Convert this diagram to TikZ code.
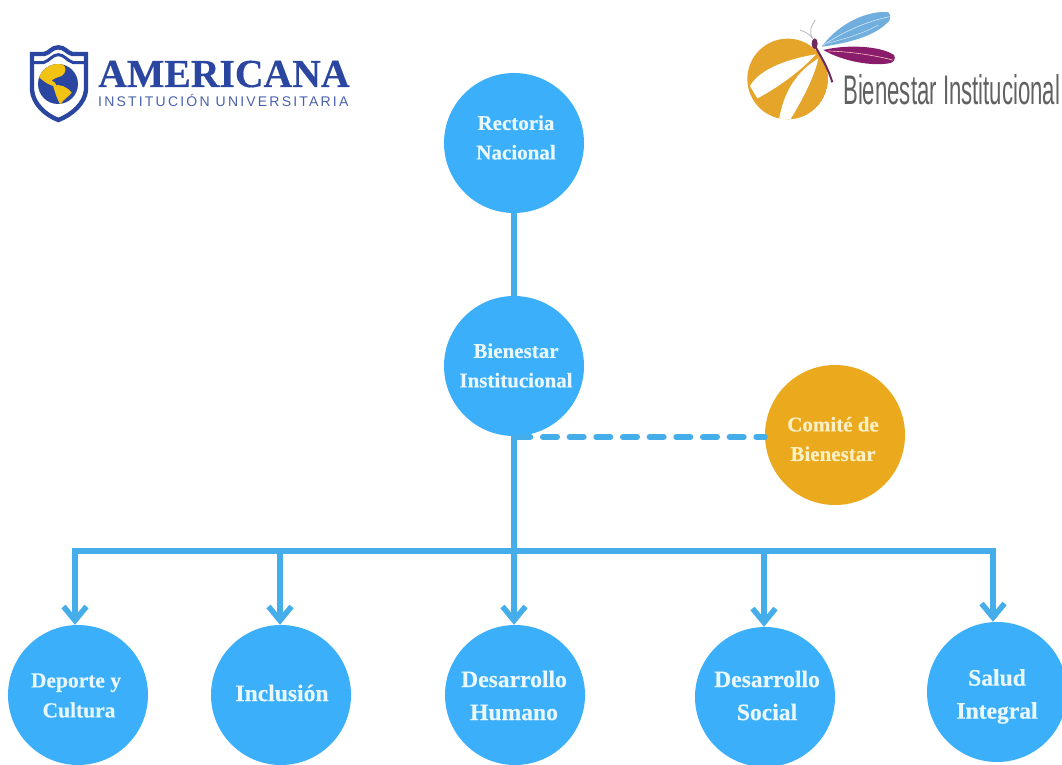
\documentclass[tikz,border=0pt]{standalone}
\usepackage{fontspec}
\usepackage{graphicx}
\usetikzlibrary{arrows.meta}
\setmainfont[BoldFeatures={FakeBold=0.35}]{Liberation Serif}
\newfontfamily\instfont[LetterSpace=15.7]{Liberation Sans}
\newfontfamily\bienfont{Liberation Sans}
\definecolor{skyc}{HTML}{3BAFF9}
\definecolor{linec}{HTML}{45AEEA}
\definecolor{goldc}{HTML}{EBA91E}
\definecolor{labelc}{HTML}{E9F8FF}
\definecolor{labelg}{HTML}{FBF0C4}
\definecolor{navyc}{HTML}{2A46A0}
\definecolor{globey}{HTML}{F2C313}
\definecolor{wingb}{HTML}{6FAEDD}
\definecolor{wingp}{HTML}{8A1C6C}
\definecolor{bodyc}{HTML}{6E2A5E}
\definecolor{logog}{HTML}{E5A42A}
\tikzset{
  disc/.style={circle,minimum size=140pt,inner sep=0pt,fill=skyc},
  golddisc/.style={disc,fill=goldc},
  lab/.style={text=labelc,align=center,inner sep=0pt,font=\bfseries\fontsize{21}{29.5}\selectfont},
  labbig/.style={lab,font=\bfseries\fontsize{23.6}{33}\selectfont},
  conn/.style={draw=linec,line width=5.5pt},
  arrowconn/.style={conn,-{Straight Barb[length=14pt,width=23pt,line width=5.5pt]},shorten >=0pt,
    preaction={draw=linec,line width=5.5pt,-,shorten >=6pt}},
  dashconn/.style={draw=linec,line width=6pt,line cap=round,dash pattern=on 14pt off 12.67pt,dash phase=-2.3pt},
}
\begin{document}
\begin{tikzpicture}[x=1pt,y=-1pt]
\useasboundingbox (0,0) rectangle (1062,765);
\fill[white] (0,0) rectangle (1062,765);

% nodes
\node[disc] (rect) at (514,143) {};
\node[disc] (bien) at (514,366) {};
\node[golddisc] (com) at (835,435) {};
\node[disc] (dep) at (78,695) {};
\node[disc] (inc) at (281,695) {};
\node[disc] (hum) at (515,695) {};
\node[disc] (soc) at (765,697) {};
\node[disc] (sal) at (997,692) {};

\node[lab] (lrect) at (516,137.5) {Rectoria\\Nacional};
\node[lab] (lbien) at (516,365.5) {Bienestar\\Institucional};
\node[lab,text=labelg] (lcom) at (833,439) {Comité de\\Bienestar};
\node[lab,font=\bfseries\fontsize{21.5}{30}\selectfont] (ldep) at (76,695.5) {Deporte y\\\hspace*{6pt}Cultura};
\node[labbig] (linc) at (282,693) {Inclusión};
\node[labbig] (lhum) at (514,695.5) {Desarrollo\\Humano};
\node[labbig] (lsoc) at (767,695.5) {Desarrollo\\Social};
\node[labbig] (lsal) at (997,696.5) {Salud\\Integral};

% connectors
\coordinate (jdash) at (514,437);
\coordinate (jbus) at (514,551);
\draw[conn] (rect.south) -- (bien.north);
\draw[dashconn] (jdash) -- (com.west |- jdash);
\draw[conn] (bien.south) -- (jbus);
\draw[arrowconn] (jbus) -| ([xshift=-3pt]dep.north);
\draw[arrowconn] (jbus) -| ([xshift=-1pt]inc.north);
\draw[arrowconn] (jbus) -- (jbus |- hum.north);
\draw[arrowconn] (jbus) -| ([xshift=-1pt]soc.north);
\draw[arrowconn] (jbus) -| ([xshift=-4pt]sal.north);

% Americana logo
\begin{scope}[shift={(25,40)},scale=1/3]
  \draw[navyc,line width=4.4pt,fill=white,line join=miter]
    (21,42) -- (58,42) .. controls (75,38) and (80,22) .. (100,22)
    .. controls (120,22) and (125,38) .. (142,42) -- (183,42) -- (183,150)
    .. controls (180,190) and (140,225) .. (100,240)
    .. controls (60,225) and (24,190) .. (21,150) -- cycle;
  \draw[navyc,line width=3pt]
    (22,68) -- (55,68) .. controls (75,62) and (82,44) .. (100,44)
    .. controls (118,44) and (125,62) .. (145,68) -- (182,68);
  \fill[navyc] (99,132) circle (60);
  \begin{scope}
    \clip (99,132) circle (60);
    \fill[globey] (38,108) -- (50,80) -- (90,65) -- (112,72)
      .. controls (126,82) and (124,98) .. (110,108)
      .. controls (96,112) and (86,116) .. (80,122)
      .. controls (90,126) and (96,134) .. (92,139)
      .. controls (76,138) and (60,128) .. (38,108) -- cycle;
    \fill[globey] (84,137) .. controls (105,130) and (128,142) .. (140,158)
      .. controls (130,172) and (116,176) .. (106,194)
      .. controls (96,178) and (90,155) .. (84,137) -- cycle;
  \end{scope}
\end{scope}
\node[anchor=base west,inner sep=0pt,text=navyc,font=\bfseries\fontsize{39.7}{40}\selectfont] (amer) at (98,87) {AMERICANA};
\node[anchor=base west,inner sep=0pt,text=navyc!85,font=\instfont\fontsize{14}{15}\selectfont] (inst) at (98,107) {INSTITUCIÓN UNIVERSITARIA};

% Bienestar Institucional logo
\begin{scope}[shift={(740,5)},scale=1/3]
  \draw[black!25,line width=0.9pt] (218,100) .. controls (205,85) and (195,80) .. (180,75);
  \draw[black!25,line width=0.9pt] (218,100) .. controls (205,80) and (215,60) .. (226,45);
  \begin{scope}
    \clip (143,222) circle (121);
    \fill[logog] (143,222) circle (121);
    \fill[white] (228,148) .. controls (150,160) and (60,190) .. (30,243)
      -- (52,280) .. controls (110,250) and (180,200) .. (228,148) -- cycle;
    \fill[white] (235,160) .. controls (170,200) and (130,260) .. (116,350)
      -- (150,345) .. controls (190,280) and (225,210) .. (235,160) -- cycle;
    \fill[white] (215,100) -- (300,100) -- (300,250) -- (279,235) -- (236,130) -- cycle;
  \end{scope}
  \fill[wingb] (245,125) .. controls (300,50) and (390,15) .. (445,22)
    .. controls (455,30) and (452,48) .. (440,55)
    .. controls (400,95) and (320,115) .. (245,125) -- cycle;
  \draw[white!70!wingb,line width=0.6pt] (250,120) .. controls (320,75) and (380,50) .. (448,35);
  \draw[white!70!wingb,line width=0.5pt] (262,115) .. controls (320,100) and (370,85) .. (415,60);
  \fill[wingp] (250,135) .. controls (320,118) and (420,122) .. (462,150)
    .. controls (468,160) and (462,170) .. (452,174)
    .. controls (400,185) and (310,170) .. (250,135) -- cycle;
  \draw[pink,line width=0.6pt] (265,138) .. controls (330,140) and (400,150) .. (458,165);
  \draw[bodyc,line width=2pt] (222,118) .. controls (240,150) and (265,190) .. (277,232);
  \fill[bodyc] (224,116) ellipse (9 and 16);
\end{scope}
\node[anchor=base west,inner sep=0pt,text=black!62] (bientxt) at (843,105)
  {\resizebox{217pt}{30pt}{\bienfont Bienestar Institucional}};
\end{tikzpicture}
\end{document}
